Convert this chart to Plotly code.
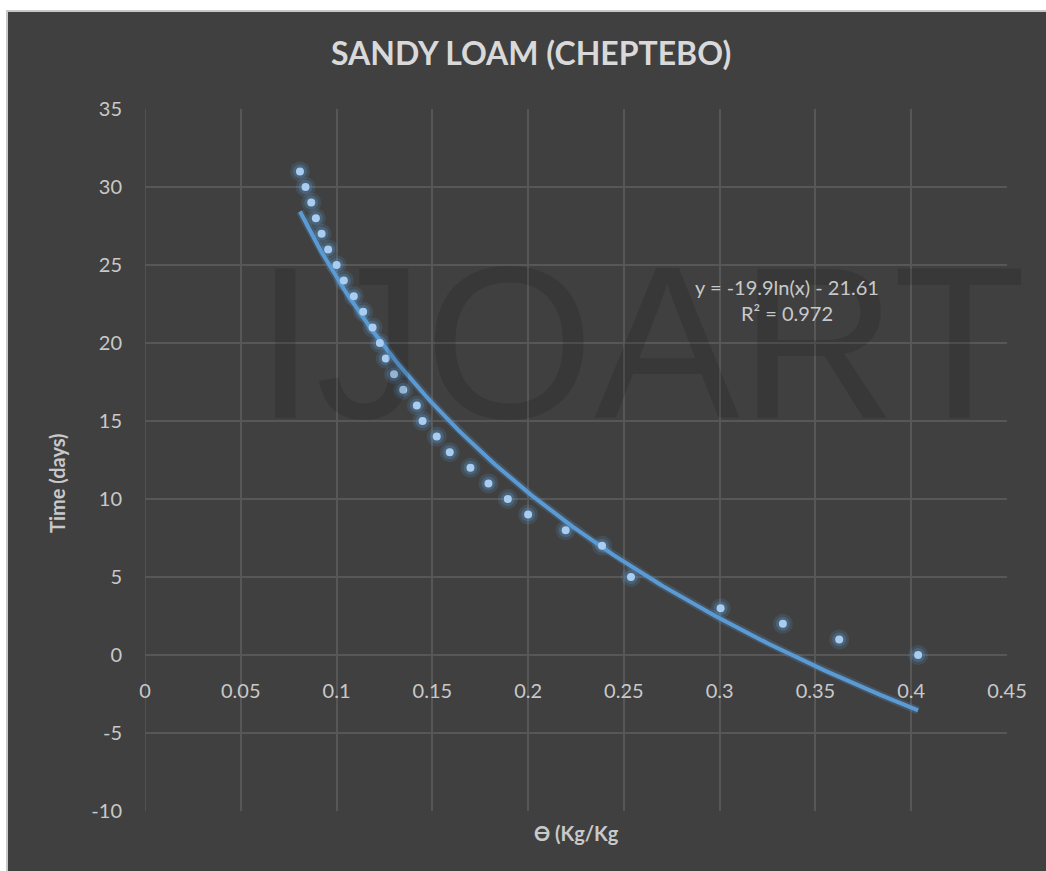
import numpy as np
import plotly.graph_objects as go

# ---- data ----
theta = [0.0809, 0.0838, 0.0868, 0.0892, 0.0922, 0.0956, 0.1000, 0.1038, 0.1090, 0.1139,
         0.1188, 0.1226, 0.1257, 0.1300, 0.1348, 0.1419, 0.1449, 0.1523, 0.1591, 0.1699,
         0.1793, 0.1894, 0.2000, 0.2196, 0.2386, 0.2537, 0.3005, 0.3330, 0.3624, 0.4036]
time_days = [31, 30, 29, 28, 27, 26, 25, 24, 23, 22,
             21, 20, 19, 18, 17, 16, 15, 14, 13, 12,
             11, 10, 9, 8, 7, 5, 3, 2, 1, 0]
trend_a = -19.9
trend_b = -21.61
r_squared = 0.972
x_ticks = [0, 0.05, 0.1, 0.15, 0.2, 0.25, 0.3, 0.35, 0.4, 0.45]
x_tick_text = ["0", "0.05", "0.1", "0.15", "0.2", "0.25", "0.3", "0.35", "0.4", "0.45"]
y_ticks = [-10, -5, 0, 5, 10, 15, 20, 25, 30, 35]
y_tick_text = ["-10", "-5", "0", "5", "10", "15", "20", "25", "30", "35"]

# logarithmic trendline (Excel-style) over the data range
tx = np.linspace(min(theta), max(theta), 200)
ty = trend_a * np.log(tx) + trend_b

W, H = 1046, 871
L, R, T, B = 145, 39, 109, 60
PW, PH = W - L - R, H - T - B

def px(x):
    return (x - L) / PW

def py(y):
    return (H - B - y) / PH

FONT = "Lato"
BG = "#404040"
GRID = "#575757"
TXT = "#c9c9c9"

fig = go.Figure()

# trendline glow + line
fig.add_trace(go.Scatter(x=tx, y=ty, mode="lines",
                         line=dict(color="rgba(91,155,213,0.22)", width=8),
                         hoverinfo="skip", showlegend=False))
fig.add_trace(go.Scatter(x=tx, y=ty, mode="lines",
                         line=dict(color="#5b9bd5", width=4),
                         showlegend=False))
# marker glow
fig.add_trace(go.Scatter(x=theta, y=time_days, mode="markers",
                         marker=dict(size=20, color="rgba(91,155,213,0.16)", line=dict(width=0)),
                         hoverinfo="skip", showlegend=False))
fig.add_trace(go.Scatter(x=theta, y=time_days, mode="markers",
                         marker=dict(size=14, color="rgba(91,155,213,0.28)", line=dict(width=0)),
                         hoverinfo="skip", showlegend=False))
fig.add_trace(go.Scatter(x=theta, y=time_days, mode="markers",
                         marker=dict(size=8, color="#a9cdf0", line=dict(width=0)),
                         showlegend=False))

y0_pos = (0 - y_ticks[0]) / (y_ticks[-1] - y_ticks[0])

fig.update_layout(
    width=W, height=H,
    margin=dict(l=L, r=R, t=T, b=B),
    paper_bgcolor="white",
    plot_bgcolor="rgba(0,0,0,0)",
    font=dict(family=FONT, color=TXT, size=20),
    xaxis=dict(range=[0, 0.45], tickvals=x_ticks, ticktext=x_tick_text,
               showgrid=True, gridcolor=GRID, gridwidth=1.5,
               zeroline=False, showline=False, ticks="",
               anchor="free", position=y0_pos, ticklabelstandoff=22,
               tickfont=dict(size=20, color=TXT, family=FONT)),
    yaxis=dict(range=[-10, 35], tickvals=y_ticks, ticktext=y_tick_text, domain=[0, 1],
               showgrid=True, gridcolor=GRID, gridwidth=1.5,
               zeroline=False, showline=False, ticks="",
               ticklabelstandoff=22,
               tickfont=dict(size=20, color=TXT, family=FONT)),
    shapes=[
        dict(type="rect", xref="paper", yref="paper",
             x0=px(7), x1=px(W + 2), y0=py(H + 2), y1=py(11),
             fillcolor=BG, line=dict(color="#c8c8c8", width=2), layer="below"),
        dict(type="line", xref="x", yref="y", x0=0, x1=0, y0=-10, y1=35,
             line=dict(color=GRID, width=1.5), layer="below"),
    ],
    annotations=[
        dict(text="IJOART", xref="paper", yref="paper", x=px(640), y=py(342),
             showarrow=False, font=dict(family="Liberation Sans", size=218,
                                        color="rgba(0,0,0,0.12)"),
             xanchor="center", yanchor="middle"),
        dict(text="<b>SANDY LOAM (CHEPTEBO)</b>", xref="paper", yref="paper",
             x=px(531), y=py(53), showarrow=False,
             font=dict(family=FONT, size=32, color="#d9d9d9"),
             xanchor="center", yanchor="middle"),
        dict(text="<b>Time (days)</b>", xref="paper", yref="paper",
             x=px(57), y=py(483), showarrow=False, textangle=-90,
             font=dict(family=FONT, size=20, color=TXT),
             xanchor="center", yanchor="middle"),
        dict(text="<b>ϴ (Kg/Kg</b>", xref="paper", yref="paper",
             x=px(576), y=py(833), showarrow=False,
             font=dict(family=FONT, size=20, color=TXT),
             xanchor="center", yanchor="middle"),
        dict(text=f"y = {trend_a}ln(x) - {abs(trend_b)}<br>R² = {r_squared}",
             xref="paper", yref="paper", x=px(787), y=py(300), showarrow=False,
             font=dict(family=FONT, size=20, color=TXT),
             xanchor="center", yanchor="middle", align="center"),
    ],
)

fig.write_html("out.html")
